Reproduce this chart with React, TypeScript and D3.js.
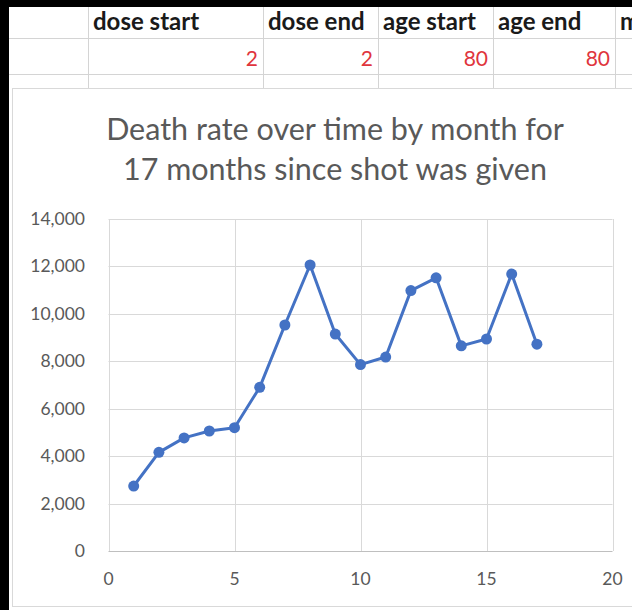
import React from "react";
import { scaleLinear, line, format } from "d3";

// sheet cells above the chart
const headers = ["dose start", "dose end", "age start", "age end", "m"];
const cellValues = ["", "2", "2", "80", "80"];
const colEdges = [88, 263, 378, 493, 615, 700];

// chart data: months since shot vs deaths
const months = [1, 2, 3, 4, 5, 6, 7, 8, 9, 10, 11, 12, 13, 14, 15, 16, 17];
const deaths = [2740, 4160, 4770, 5060, 5200, 6900, 9530, 12060, 9150, 7860, 8180, 10980, 11520, 8650, 8940, 11680, 8720];
const xTicks = [0, 5, 10, 15, 20];
const yTicks = [0, 2000, 4000, 6000, 8000, 10000, 12000, 14000];
const titleLines = ["Death rate over time by month for", "17 months since shot was given"];

const W = 632;
const H = 610;
const font = "Lato, 'Open Sans', sans-serif";

const App = () => {
  const x = scaleLinear().domain([0, 20]).range([108.5, 612.5]);
  const y = scaleLinear().domain([0, 14000]).range([551, 219]);
  const fmt = format(",");

  const pts = months.map((m, i) => ({ m, v: deaths[i] }));
  const path = line<any>()
    .x((d) => x(d.m))
    .y((d) => y(d.v))(pts);

  return (
    <svg
      width={W}
      height={H}
      style={{ position: "absolute", left: 0, top: 0, background: "#fff" }}
      fontFamily={font}
    >
      {/* spreadsheet part */}
      <rect x={0} y={0} width={W} height={H} fill="#fff" />
      {[38, 74].map((yy) => (
        <line key={yy} x1={9} x2={W} y1={yy + 0.5} y2={yy + 0.5} stroke="#d4d4d4" />
      ))}
      {colEdges.map((cx) => (
        <line key={cx} x1={cx + 0.5} x2={cx + 0.5} y1={7} y2={88} stroke="#d4d4d4" />
      ))}
      {headers.map((h, i) => (
        <text key={h} x={colEdges[i] + 5} y={30} fontSize={24} fontWeight="bold" fill="#1a1a1a">
          {h}
        </text>
      ))}
      {cellValues.map((v, i) =>
        v ? (
          <text key={i} x={colEdges[i] - 5} y={66} fontSize={21} textAnchor="end" fill="#e0353d">
            {v}
          </text>
        ) : null
      )}

      {/* chart area */}
      <rect x={12.5} y={88.5} width={700} height={518} fill="#fff" stroke="#d9d9d9" />
      {titleLines.map((t, i) => (
        <text key={i} x={335} y={140 + i * 40} fontSize={30.5} textAnchor="middle" fill="#595959">
          {t}
        </text>
      ))}

      {yTicks.map((t) => (
        <g key={t}>
          <line
            x1={x(0)}
            x2={x(20)}
            y1={Math.round(y(t)) + 0.5}
            y2={Math.round(y(t)) + 0.5}
            stroke={t === 0 ? "#bfbfbf" : "#d9d9d9"}
          />
          <text x={85} y={y(t) + 6} fontSize={17.5} textAnchor="end" fill="#595959">
            {fmt(t)}
          </text>
        </g>
      ))}
      {xTicks.map((t) => (
        <g key={t}>
          <line
            x1={Math.round(x(t)) + 0.5}
            x2={Math.round(x(t)) + 0.5}
            y1={y(14000)}
            y2={y(0)}
            stroke="#d9d9d9"
          />
          <text x={x(t)} y={585} fontSize={17.5} textAnchor="middle" fill="#595959">
            {t}
          </text>
        </g>
      ))}

      <path d={path || ""} fill="none" stroke="#4472c4" strokeWidth={3} strokeLinejoin="round" />
      {pts.map((d) => (
        <circle key={d.m} cx={x(d.m)} cy={y(d.v)} r={5.5} fill="#4472c4" />
      ))}

      {/* black edges of the screenshot */}
      <rect x={0} y={0} width={W} height={7} fill="#000" />
      <rect x={0} y={0} width={9} height={H} fill="#000" />
    </svg>
  );
};

export default App;
